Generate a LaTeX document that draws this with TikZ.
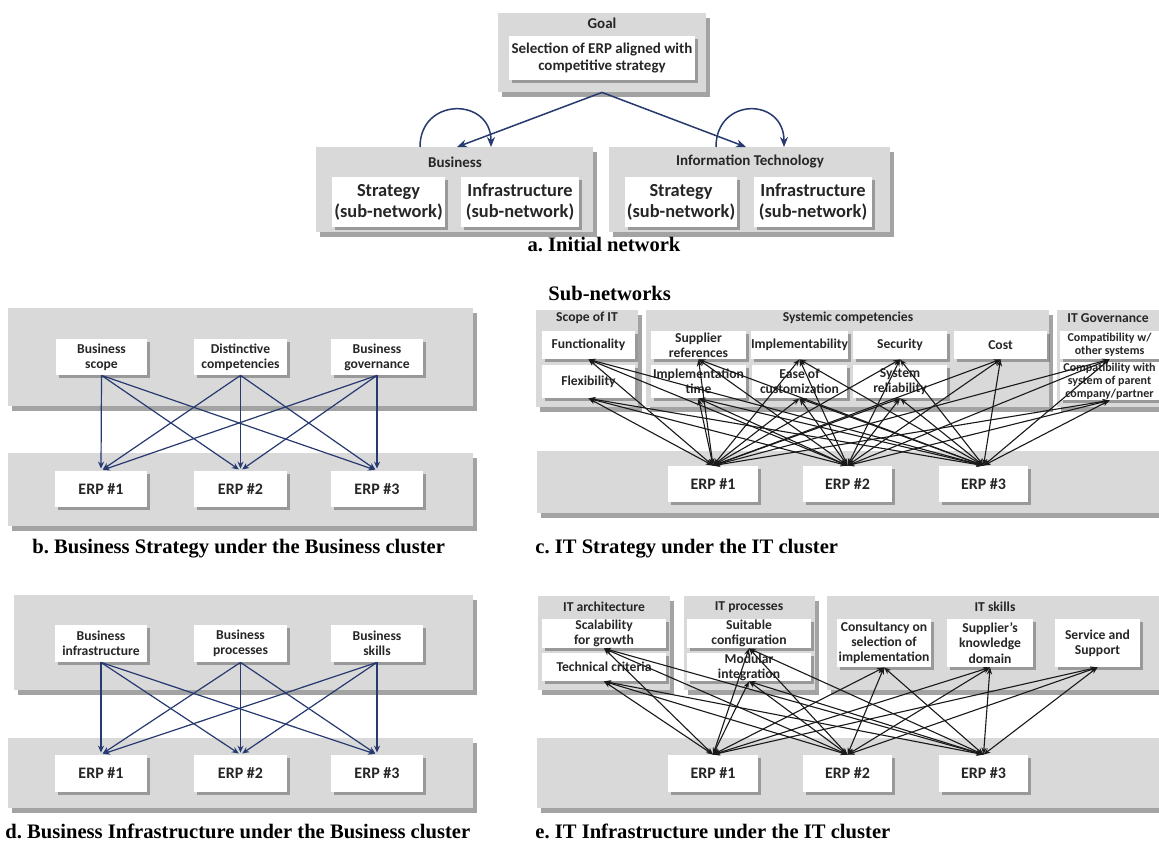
\documentclass[tikz,border=0pt]{standalone}
\usepackage{fontspec}
\setmainfont{Liberation Serif}
\newfontfamily\calfont{Carlito}
\usetikzlibrary{shadows,arrows.meta}
\definecolor{panelgray}{RGB}{217,217,217}
\definecolor{navyline}{RGB}{38,58,112}
\frenchspacing
\newcommand\rbox[7][]{\node[#1, minimum width={0.5pt*(#5-#3)}, minimum height={0.5pt*(#6-#4)}] (#2) at ({(#3+#5)/2},{(#4+#6)/2}) {#7};}
\tikzset{
 graybox/.style={fill=panelgray, inner sep=0pt, drop shadow={shadow xshift=2pt, shadow yshift=-2.5pt, opacity=0.6, fill=black!60}},
 whitebox/.style={fill=white, inner sep=0pt, align=center, text=black!85, drop shadow={shadow xshift=1.5pt, shadow yshift=-1.5pt, opacity=0.55, fill=black!60}},
 fA/.style={font=\calfont\bfseries\fontsize{7.5}{8.6}\selectfont},
 fBig/.style={font=\calfont\bfseries\fontsize{9.2}{10.6}\selectfont},
 fS/.style={font=\calfont\bfseries\fontsize{6.8}{7.6}\selectfont},
 fXS/.style={font=\calfont\bfseries\fontsize{6}{6.6}\selectfont},
 fERP/.style={font=\calfont\bfseries\fontsize{8}{9}\selectfont},
 ctitle/.style={text=black!85, inner sep=0pt},
 capt/.style={font=\bfseries\fontsize{10.3}{12}\selectfont, inner sep=0pt},
 navyarrow/.style={draw=navyline, line width=0.75pt, -{Stealth[length=5pt,width=4pt]}},
 blink/.style={draw=navyline, line width=0.6pt, shorten >=1pt, -{Stealth[length=3.5pt,width=3pt]}},
 klink/.style={draw=black!90, line width=0.55pt, {Stealth[length=3.5pt,width=2.6pt]}-{Stealth[length=3.5pt,width=2.6pt]}},
}
\begin{document}
\begin{tikzpicture}[x=0.5pt,y=-0.5pt]
\path[fill=white,use as bounding box] (0,0) rectangle (1159,844);

% ---------- a. Initial network ----------
\rbox[graybox]{goalbox}{498}{13}{706}{92}{}
\node[ctitle,fA] (goaltitle) at (602,23) {Goal};
\rbox[whitebox,fA]{goal}{509}{36}{695}{80}{Selection of ERP aligned with\\competitive strategy}
\rbox[graybox]{bizbox}{316}{147}{593}{232}{}
\node[ctitle,fA] (biztitle) at (455,162) {Business};
\rbox[whitebox,fBig]{bizstrat}{332}{177}{445}{227}{Strategy\\(sub-network)}
\rbox[whitebox,fBig]{bizinfra}{461}{177}{579}{227}{Infrastructure\\(sub-network)}
\rbox[graybox]{itbox}{609}{147}{890}{232}{}
\node[ctitle,fA] (ittitle) at (750,162) {Information Technology};
\rbox[whitebox,fBig]{itstrat}{625}{177}{737}{227}{Strategy\\(sub-network)}
\rbox[whitebox,fBig]{itinfra}{754}{177}{872}{227}{Infrastructure\\(sub-network)}
\coordinate (bizin) at (457,147);
\coordinate (itin) at (746,147);
\draw[navyarrow] (goalbox.south) -- (bizin);
\draw[navyarrow] (goalbox.south) -- (itin);
\coordinate (bl1) at (420,147);
\coordinate (bl2) at (491,147);
\coordinate (il1) at (716,147);
\coordinate (il2) at (784,147);
\draw[navyarrow] (bl1) .. controls (420,97) and (491,97) .. (bl2);
\draw[navyarrow] (il1) .. controls (716,97) and (784,97) .. (il2);
\node[capt] (capa) at (604,245) {a. Initial network};

% ---------- b. Business Strategy ----------
\rbox[graybox]{btop}{8}{308}{473}{406}{}
\rbox[whitebox,fS]{b1}{56}{339}{147}{375}{Business\\scope}
\rbox[whitebox,fS]{b2}{194}{339}{287}{375}{Distinctive\\competencies}
\rbox[whitebox,fS]{b3}{331}{339}{423}{375}{Business\\governance}
\rbox[graybox]{bbot}{8}{453}{473}{526}{}
\rbox[whitebox,fERP]{be1}{55}{471}{147}{507}{ERP \#1}
\rbox[whitebox,fERP]{be2}{194}{471}{287}{507}{ERP \#2}
\rbox[whitebox,fERP]{be3}{331}{471}{423}{507}{ERP \#3}
\foreach \s in {b1,b2,b3}
  \foreach \e in {be1,be2,be3}
    \draw[blink] (\s.south) -- (\e.north);
\node[capt,anchor=west] (capb) at (32,549) {b. Business Strategy under the Business cluster};

% ---------- d. Business Infrastructure ----------
\rbox[graybox]{dtop}{14}{595}{473}{690}{}
\rbox[whitebox,fS]{d1}{55}{625}{147}{662}{Business\\infrastructure}
\rbox[whitebox,fS]{d2}{194}{625}{287}{662}{Business\\processes}
\rbox[whitebox,fS]{d3}{331}{625}{423}{662}{Business\\skills}
\rbox[graybox]{dbot}{8}{738}{473}{808}{}
\rbox[whitebox,fERP]{de1}{55}{755}{147}{792}{ERP \#1}
\rbox[whitebox,fERP]{de2}{194}{755}{287}{792}{ERP \#2}
\rbox[whitebox,fERP]{de3}{331}{755}{423}{792}{ERP \#3}
\foreach \s in {d1,d2,d3}
  \foreach \e in {de1,de2,de3}
    \draw[blink] (\s.south) -- (\e.north);
\node[capt,anchor=west] (capd) at (5,831) {d. Business Infrastructure under the Business cluster};

% ---------- c. IT Strategy ----------
\node[capt,anchor=west] (subnet) at (548,293) {Sub-networks};
\rbox[graybox]{cscope}{536}{310}{638}{407}{}
\rbox[graybox]{csys}{646}{310}{1049}{407}{}
\rbox[graybox]{cgov}{1057}{310}{1165}{407}{}
\node[ctitle,fS] (tscope) at (587,318) {Scope of IT};
\node[ctitle,fS] (tsys) at (848,318) {Systemic competencies};
\node[ctitle,fS] (tgov) at (1108,318) {IT Governance};
\rbox[whitebox,fS]{c1}{542}{331}{635}{359}{Functionality}
\rbox[whitebox,fS]{c2}{542}{365}{635}{398}{Flexibility}
\rbox[whitebox,fS]{c3}{651}{331}{746}{359}{Supplier\\references}
\rbox[whitebox,fS]{c4}{651}{365}{746}{398}{Implementation\\time}
\rbox[whitebox,fS]{c5}{752}{331}{847}{359}{Implementability}
\rbox[whitebox,fS]{c6}{752}{365}{847}{398}{Ease of\\customization}
\rbox[whitebox,fS]{c7}{853}{331}{947}{359}{Security}
\rbox[whitebox,fS]{c8}{853}{365}{947}{398}{System\\reliability}
\rbox[whitebox,fS]{c9}{954}{331}{1047}{359}{Cost}
\rbox[whitebox,fXS]{c10}{1060}{331}{1159}{359}{Compatibility w/\\other systems}
\rbox[whitebox,fXS]{c11}{1060}{362}{1159}{400}{Compatibility with\\system of parent\\company/partner}
\rbox[graybox]{cbot}{537}{451}{1165}{513}{}
\rbox[whitebox,fERP]{ce1}{668}{466}{758}{502}{ERP \#1}
\rbox[whitebox,fERP]{ce2}{803}{466}{892}{502}{ERP \#2}
\rbox[whitebox,fERP]{ce3}{939}{466}{1028}{502}{ERP \#3}
\foreach \s in {c1,c2,c3,c4,c5,c6,c7,c8,c9,c10,c11}
  \foreach \e in {ce1,ce2,ce3}
    \draw[klink] (\s.south) -- (\e.north);
\node[capt,anchor=west] (capc) at (535,549) {c. IT Strategy under the IT cluster};

% ---------- e. IT Infrastructure ----------
\rbox[graybox]{earch}{538}{596}{670}{690}{}
\rbox[graybox]{eproc}{684}{596}{815}{690}{}
\rbox[graybox]{eskill}{827}{596}{1165}{690}{}
\node[ctitle,fS] (tarch) at (604,607) {IT architecture};
\node[ctitle,fS] (tproc) at (749,607) {IT processes};
\node[ctitle,fS] (tskill) at (995,607) {IT skills};
\rbox[whitebox,fS]{e1}{542}{619}{666}{648}{Scalability\\for growth}
\rbox[whitebox,fS]{e2}{542}{653}{666}{681}{Technical criteria}
\rbox[whitebox,fS]{e3}{687}{619}{811}{648}{Suitable\\configuration}
\rbox[whitebox,fS]{e4}{687}{653}{811}{681}{Modular\\integration}
\rbox[whitebox,fS]{e5}{837}{619}{931}{667}{Consultancy on\\selection of\\implementation}
\rbox[whitebox,fS]{e6}{947}{619}{1033}{667}{Supplier’s\\knowledge\\domain}
\rbox[whitebox,fS]{e7}{1055}{619}{1140}{667}{Service and\\Support}
\rbox[graybox]{ebot}{537}{738}{1165}{808}{}
\rbox[whitebox,fERP]{ee1}{668}{755}{758}{792}{ERP \#1}
\rbox[whitebox,fERP]{ee2}{803}{755}{892}{792}{ERP \#2}
\rbox[whitebox,fERP]{ee3}{939}{755}{1028}{792}{ERP \#3}
\foreach \s in {e1,e2,e3,e4,e5,e6,e7}
  \foreach \e in {ee1,ee2,ee3}
    \draw[klink] (\s.south) -- (\e.north);
\node[capt,anchor=west] (cape) at (535,831) {e. IT Infrastructure under the IT cluster};
\end{tikzpicture}
\end{document}
